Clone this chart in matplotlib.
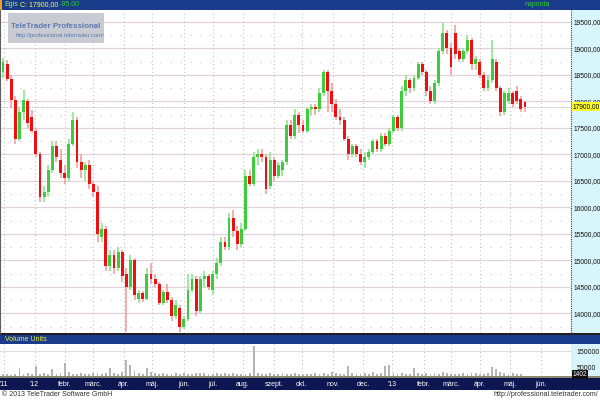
import numpy as np
import pandas as pd
import matplotlib
matplotlib.use("Agg")
import matplotlib.pyplot as plt
from matplotlib.patches import Rectangle

plt.rcParams['font.family'] = ['Liberation Sans', 'DejaVu Sans']

# one candle = 3 trading days, Egis daily chart Dec 2011 - May 2013
ohlc = [
    (18560, 18820, 18440, 18750), (18700, 18780, 18380, 18430), (18430, 18500, 17880, 18030),
    (18030, 18100, 17200, 17300), (17300, 17900, 17250, 17800), (17800, 18220, 17650, 18030),
    (18000, 18050, 17500, 17600), (17700, 17840, 17400, 17450), (17450, 17500, 16950, 17000),
    (17000, 17050, 16100, 16200), (16200, 16400, 16100, 16300), (16300, 16800, 16200, 16700),
    (16700, 17250, 16650, 17150), (17150, 17250, 16850, 16950), (16900, 17100, 16550, 16650),
    (16650, 16800, 16450, 16550), (16550, 17300, 16500, 17200), (17200, 17800, 17150, 17650),
    (17650, 17700, 16750, 16850), (16850, 17000, 16550, 16700), (16700, 16850, 16500, 16800),
    (16800, 16900, 16350, 16450), (16450, 16500, 16200, 16300), (16300, 16400, 15350, 15500),
    (15450, 15700, 15350, 15600), (15600, 15650, 14800, 14900), (14900, 15200, 14800, 15100),
    (15100, 15200, 14750, 14850), (14850, 15250, 14800, 15150), (15150, 15200, 14600, 14700),
    (14750, 14850, 13650, 14500), (14500, 15100, 14450, 15000), (15000, 15050, 14250, 14350),
    (14280, 14450, 14200, 14380), (14380, 14420, 14220, 14280), (14280, 14850, 14250, 14750),
    (14750, 14950, 14550, 14650), (14650, 14750, 14500, 14550), (14550, 14600, 14150, 14200),
    (14200, 14450, 14150, 14400), (14400, 14550, 14200, 14250), (14250, 14300, 13850, 13950),
    (13950, 14250, 13900, 14150), (14100, 14150, 13650, 13750), (13750, 13950, 13700, 13900),
    (13900, 14750, 13850, 14450), (14450, 14750, 14400, 14650), (14650, 14700, 13950, 14050),
    (14050, 14700, 14000, 14650), (14650, 14800, 14500, 14700), (14700, 14750, 14450, 14500),
    (14450, 14800, 14350, 14750), (14750, 15050, 14650, 14950), (14950, 15450, 14900, 15350),
    (15350, 15450, 15200, 15250), (15250, 15900, 15200, 15800), (15800, 15950, 15450, 15550),
    (15550, 15650, 15200, 15300), (15300, 15700, 15250, 15600), (15600, 16700, 15550, 16600),
    (16600, 16700, 16400, 16450), (16450, 17050, 16400, 16950), (16950, 17100, 16800, 17000),
    (17000, 17100, 16850, 16950), (16950, 17000, 16250, 16350), (16400, 17050, 16350, 16900),
    (16900, 16950, 16500, 16600), (16600, 16850, 16550, 16800), (16700, 16900, 16600, 16850),
    (16850, 17650, 16800, 17550), (17550, 17650, 17300, 17350), (17350, 17850, 17300, 17750),
    (17750, 17800, 17400, 17550), (17550, 17650, 17400, 17450), (17450, 17900, 17400, 17850),
    (17850, 17950, 17750, 17900), (17900, 17950, 17750, 17850), (17850, 18250, 17800, 18150),
    (18150, 18600, 18100, 18550), (18550, 18600, 17800, 18200), (18200, 18350, 17800, 17950),
    (17950, 18050, 17650, 17700), (17700, 17850, 17550, 17650), (17650, 17700, 17250, 17300),
    (17300, 17350, 16900, 17000), (17000, 17200, 16950, 17150), (17150, 17200, 16950, 17000),
    (17000, 17100, 16800, 16850), (16850, 17050, 16750, 16950), (16950, 17100, 16900, 17050),
    (17050, 17300, 17000, 17250), (17250, 17300, 17050, 17100), (17100, 17400, 17050, 17350),
    (17350, 17400, 17150, 17200), (17200, 17500, 17150, 17450), (17450, 17750, 17400, 17700),
    (17700, 17750, 17450, 17500), (17500, 18300, 17450, 18200), (18200, 18500, 18100, 18400),
    (18400, 18450, 18150, 18250), (18250, 18500, 18200, 18450), (18450, 18750, 18400, 18700),
    (18700, 18750, 18500, 18550), (18550, 18600, 18100, 18200), (18200, 18300, 17950, 18000),
    (18000, 18400, 17950, 18350), (18350, 19000, 18300, 18950), (18950, 19480, 18900, 19300),
    (19300, 19350, 18900, 19000), (19000, 19100, 18500, 18650), (19300, 19440, 18800, 18900),
    (18950, 19000, 18750, 18800), (18800, 19000, 18750, 18950), (18950, 19250, 18900, 19150),
    (19150, 19200, 18600, 18700), (18700, 18850, 18600, 18800), (18750, 18800, 18450, 18500),
    (18500, 18550, 18200, 18250), (18250, 18500, 18200, 18400), (18400, 19150, 18350, 18800),
    (18750, 18800, 18200, 18250), (18250, 18300, 17730, 17800), (17800, 18200, 17750, 18150),
    (18000, 18250, 17950, 18150), (18150, 18200, 17900, 17950), (18200, 18300, 17950, 18000),
    (18050, 18100, 17800, 17850), (17980, 18000, 17800, 17900),
]

volume = [
    12000, 15000, 9000, 14000, 48000, 11000, 16000, 13000, 58000, 12000,
    18000, 10000, 44000, 14000, 20000, 79000, 22000, 15000, 12000, 17000,
    13000, 11000, 19000, 16000, 14000, 21000, 48000, 18000, 15000, 24000,
    97000, 68000, 30000, 19000, 14000, 48000, 22000, 16000, 12000, 18000,
    15000, 11000, 20000, 13000, 17000, 14000, 12000, 19000, 16000, 21000,
    15000, 13000, 18000, 12000, 16000, 14000, 17000, 11000, 15000, 13000,
    20000, 180000, 16000, 12000, 14000, 18000, 13000, 11000, 17000, 15000,
    12000, 16000, 14000, 10000, 13000, 15000, 18000, 12000, 16000, 14000,
    22000, 17000, 13000, 15000, 58000, 19000, 14000, 12000, 16000, 13000,
    25000, 15000, 18000, 62000, 68000, 20000, 14000, 17000, 12000, 15000,
    48000, 19000, 13000, 16000, 14000, 18000, 12000, 22000, 17000, 13000,
    15000, 12000, 18000, 14000, 16000, 20000, 13000, 15000, 17000, 55000,
    40000, 22000, 18000, 14000, 16000, 12000, 15000, 1402,
]

month_starts = ['2011-12-01', '2012-01-01', '2012-02-01', '2012-03-01', '2012-04-01',
                '2012-05-01', '2012-06-01', '2012-07-01', '2012-08-01', '2012-09-01',
                '2012-10-01', '2012-11-01', '2012-12-01', '2013-01-01', '2013-02-01',
                '2013-03-01', '2013-04-01', '2013-05-01', '2013-06-01']
month_labels = ["'11", "'12", "febr.", "márc.", "ápr.", "máj.", "jún.", "júl.", "aug.",
                "szept.", "okt.", "nov.", "dec.", "'13", "febr.", "márc.", "ápr.", "máj.", "jún."]

last_close = 17900
step = 3
days = pd.bdate_range('2011-11-30', '2013-06-30')
month_pos = [days.searchsorted(pd.Timestamp(m)) / step for m in month_starts]

o, h, l, c = [np.array(v, dtype=float) for v in zip(*ohlc)]
idx = np.arange(len(ohlc))
up = c >= o

W, H = 600, 400


def box(x0, y0, x1, y1):
    # pixel box (top-left origin) -> figure fraction rect
    return [x0 / W, 1 - y1 / H, (x1 - x0) / W, (y1 - y0) / H]


def rect(x0, y0, x1, y1, color, z=-5, **kw):
    b = box(x0, y0, x1, y1)
    fig.patches.append(Rectangle((b[0], b[1]), b[2], b[3], transform=fig.transFigure,
                                 facecolor=color, edgecolor='none', zorder=z, **kw))


fig = plt.figure(figsize=(6, 4), dpi=100)
fig.patch.set_facecolor('white')

navy = '#1a3a8a'
cyan = '#d9f5fc'
rect(0, 0, 600, 10, navy)
rect(0, 0, 2, 10, '#f0a020')
rect(571, 10, 600, 333, cyan)
rect(0, 333, 600, 335, '#202020')
rect(0, 335, 600, 344, navy)
rect(571, 344, 600, 376, cyan)
rect(0, 376, 600, 378, '#8a8a70')
rect(0, 378, 600, 390, '#0c1650')

xlim = (-3 / 4.11, (571 - 3) / 4.11)

# main price panel
ax = fig.add_axes(box(0, 10, 571, 333))
ax.set_xlim(*xlim)
ax.set_ylim(13630, 19725)
for yv in np.arange(14000, 19600, 500):
    ax.axhline(yv, color='#e2d2da', lw=0.9, zorder=0)
for yv in np.arange(13750, 19600, 500):
    ax.axhline(yv, color='#c8c8c8', lw=0.8, ls=(0, (1, 8)), zorder=0)
for xp in month_pos:
    ax.axvline(xp, color='#c4c4c4', lw=0.8, ls=(0, (1, 2.5)), zorder=0)
ax.axhline(last_close, color='#b0b0b0', lw=0.6, ls=(0, (1, 1)), zorder=0)

green, red = '#3ccc3c', '#ee1010'
wick_col = np.where(up, '#8ee68e', '#f2a0a0')
ax.vlines(idx, l, h, colors=wick_col, lw=1.2, zorder=2)
body_h = np.maximum(np.abs(c - o), 25)
ax.bar(idx, body_h, bottom=np.minimum(o, c), width=0.7,
       color=np.where(up, green, red), zorder=3)

ax.yaxis.tick_right()
ax.set_yticks(np.arange(14000, 19600, 500))
ax.set_yticklabels([f'{v},00' for v in range(14000, 19600, 500)])
ax.tick_params(axis='y', length=0, pad=1.5, labelsize=4.8, labelcolor='#101010')
ax.tick_params(axis='x', bottom=False, labelbottom=False)
for s in ['top', 'bottom', 'right']:
    ax.spines[s].set_visible(False)
ax.spines['left'].set_color('#606060')
ax.spines['left'].set_linewidth(0.8)
ax.axvline(xlim[1], color='#404040', lw=0.8, ls=(0, (1, 1)), clip_on=False)
ax.text(xlim[1] + 0.4, last_close, f'{last_close},00', fontsize=4.8, va='center', ha='left',
        color='black', zorder=10,
        bbox=dict(boxstyle='square,pad=0.15', fc='#ffff30', ec='none'))

# watermark
rect(8, 13, 104, 43, '#c4c6cf', z=5, alpha=0.9)
fig.text(56 / W, 1 - 26 / H, 'TeleTrader Professional', fontsize=5.7, color='#5d79b0',
         fontweight='bold', va='center', ha='center', zorder=6)
fig.text(60 / W, 1 - 36 / H, 'http://professional.teletrader.com/', fontsize=4.3,
         color='#5d79b0', va='center', ha='center', zorder=6)

# header texts
fig.text(4 / W, 1 - 5 / H, 'Egis', fontsize=5, color='#9cf060', va='center')
fig.text(20 / W, 1 - 5 / H, 'C: 17900,00', fontsize=5, color='#ffff40', va='center')
fig.text(60 / W, 1 - 5 / H, '-95.00', fontsize=5, color='#30d030', va='center')
fig.text(550 / W, 1 - 5 / H, 'naponta', fontsize=5, color='#30d030', va='center', ha='right')
fig.text(5 / W, 1 - 339.5 / H, 'Volume Units', fontsize=5, color='#f0f040', va='center')

# volume panel
axv = fig.add_axes(box(0, 344, 571, 376))
axv.set_xlim(*xlim)
axv.set_ylim(0, 192000)
for xp in month_pos:
    axv.axvline(xp, color='#c8b0b0', lw=0.7, ls=(0, (1, 3)), zorder=0)
axv.axhline(150000, color='#dddddd', lw=0.8, zorder=0)
axv.axhline(50000, color='#eeeeee', lw=0.6, ls=(0, (1, 4)), zorder=0)
axv.bar(idx, volume, width=0.45, color='#b4b4b4', zorder=2)
axv.yaxis.tick_right()
axv.set_yticks([50000, 150000])
axv.set_yticklabels(['50000', '150000'])
axv.tick_params(axis='y', length=0, pad=4, labelsize=5, labelcolor='#101010')
axv.tick_params(axis='x', bottom=False, labelbottom=False)
for s in axv.spines.values():
    s.set_visible(False)
axv.text(xlim[1] + 0.3, 8000, f'{volume[-1]}', fontsize=4.8, color='white', va='center',
         ha='left', bbox=dict(boxstyle='square,pad=0.1', fc='#101010', ec='none'))

# date bar
axd = fig.add_axes(box(0, 378, 571, 390))
axd.set_xlim(*xlim)
axd.set_ylim(0, 1)
axd.axis('off')
for xp, lab in zip(month_pos, month_labels):
    axd.text(xp, 0.45, lab, color='white', fontsize=5, ha='center', va='center')

# footer
fig.text(2 / W, 1 - 395 / H, '© 2013 TeleTrader Software GmbH', fontsize=5,
         color='#303030', va='center', ha='left')
fig.text(598 / W, 1 - 395 / H, 'http://professional.teletrader.com/', fontsize=5,
         color='#303030', va='center', ha='right')

fig.savefig('out.png', dpi=100)
